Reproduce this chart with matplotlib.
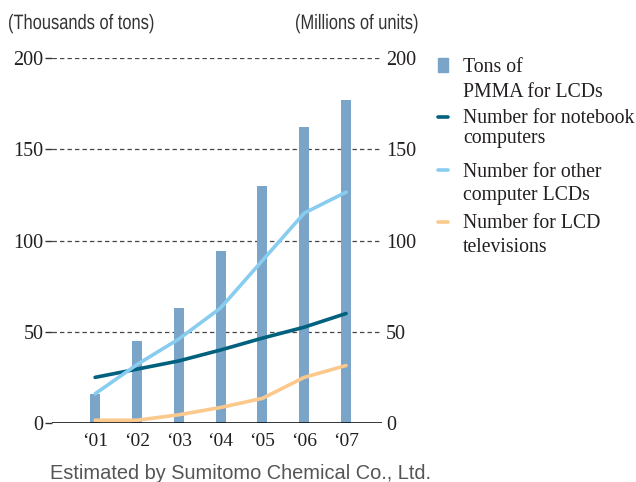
import matplotlib
matplotlib.use("Agg")
import matplotlib.pyplot as plt
from matplotlib.lines import Line2D
from matplotlib.patches import Rectangle, PathPatch
from matplotlib.textpath import TextPath
from matplotlib.font_manager import FontProperties
from matplotlib.transforms import Affine2D

# data
years = ["\u201801", "\u201802", "\u201803", "\u201804", "\u201805", "\u201806", "\u201807"]
pmma_tons = [16, 45, 63, 94, 130, 162, 177]          # thousands of tons
notebook = [25, 29.5, 34, 40, 46.5, 52.5, 60]         # millions of units
other_lcd = [16, 32, 46, 63, 89, 115, 126.5]
lcd_tv = [1.5, 1.5, 4.5, 8.5, 13.5, 25, 31.5]
yticks = [0, 50, 100, 150, 200]

bar_col = "#7ba4c9"
nb_col = "#00617f"
oth_col = "#88cdf0"
tv_col = "#fcc98c"
txt_col = "#231f20"

serif = ["Liberation Serif", "DejaVu Serif"]

fig = plt.figure(figsize=(6.36, 4.82), dpi=100)
ax = fig.add_axes([52 / 636, 59 / 482, 330 / 636, 365 / 482])

x = list(range(len(years)))
ax.bar(x, pmma_tons, width=0.24, color=bar_col, zorder=2)
ax.plot(x, notebook, color=nb_col, lw=2.6, solid_capstyle="round", zorder=3)
ax.plot(x, other_lcd, color=oth_col, lw=2.6, solid_capstyle="round", zorder=3)
ax.plot(x, lcd_tv, color=tv_col, lw=2.6, solid_capstyle="round", zorder=3)

ax.set_xlim(-1.03, 6.86)
ax.set_ylim(0, 200)
for v in yticks[1:]:
    ax.axhline(v, color="#444444", lw=0.9, ls=(0, (3.5, 2.5)), zorder=1)
ax.axhline(0, color="black", lw=1.1, zorder=4)

for s in ax.spines.values():
    s.set_visible(False)
ax.set_yticks(yticks)
ax.set_yticklabels([str(v) for v in yticks], fontsize=14.5, family=serif, color=txt_col)
ax.tick_params(axis="y", length=5, width=1, color="#333333", pad=1)
ax.set_xticks(x)
ax.set_xticklabels(years, fontsize=14, family=serif, color=txt_col)
ax.tick_params(axis="x", length=0, pad=7)

ax2 = ax.twinx()
ax2.set_ylim(0, 200)
for s in ax2.spines.values():
    s.set_visible(False)
ax2.set_yticks(yticks)
ax2.set_yticklabels([str(v) for v in yticks], fontsize=14.5, family=serif, color=txt_col)
ax2.tick_params(axis="y", length=0, pad=3)


# condensed captions: squeeze a sans text path horizontally
def narrow_text(s, x_px, base_px, size=15, sx=0.79):
    tp = TextPath((0, 0), s, size=size, prop=FontProperties(family="Liberation Sans"))
    tr = Affine2D().scale(sx / 72, 1 / 72).translate(x_px / 100, (482 - base_px) / 100)
    fig.add_artist(PathPatch(tp, transform=tr + fig.dpi_scale_trans,
                             color="#333333", lw=0))


narrow_text("(Thousands of tons)", 8, 29)
narrow_text("(Millions of units)", 295, 29)

# legend drawn by hand
fig.add_artist(Rectangle((438 / 636, 1 - 72 / 482), 10 / 636, 14 / 482,
                         transform=fig.transFigure, color=bar_col))
for yy, c in [(117, nb_col), (170, oth_col), (222, tv_col)]:
    fig.add_artist(Line2D([438 / 636, 448 / 636], [1 - yy / 482] * 2,
                          transform=fig.transFigure, color=c, lw=2.6,
                          solid_capstyle="round"))
leg_lines = [("Tons of", 72), ("PMMA for LCDs", 97),
             ("Number for notebook", 123), ("computers", 143),
             ("Number for other", 177), ("computer LCDs", 200),
             ("Number for LCD", 228), ("televisions", 252)]
for t, yb in leg_lines:
    fig.text(463 / 636, 1 - yb / 482, t, fontsize=14.2, family=serif,
             color=txt_col, va="baseline", ha="left")

fig.text(50 / 636, 1 - 479 / 482, "Estimated by Sumitomo Chemical Co., Ltd.",
         fontsize=14.4, family=["Liberation Sans", "DejaVu Sans"], color="#555555",
         va="baseline", ha="left")

fig.savefig("out.png", dpi=100)
